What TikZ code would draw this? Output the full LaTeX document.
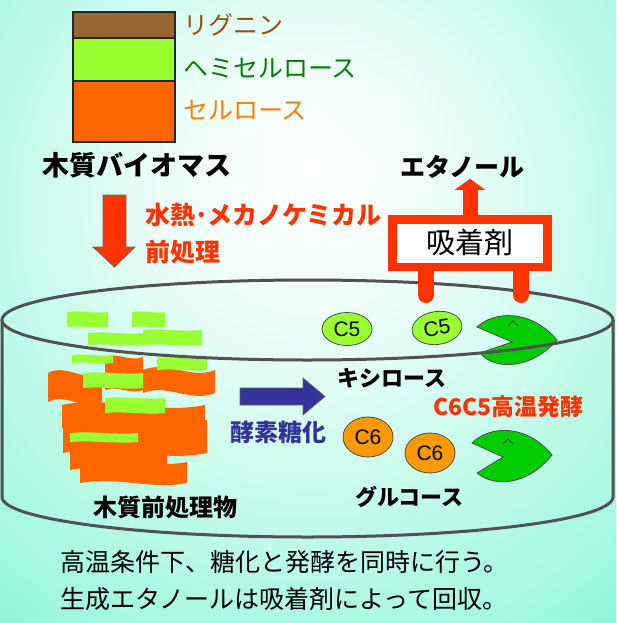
\documentclass[tikz,border=0pt]{standalone}
\usepackage{fontspec}
\setmainfont{Liberation Sans}
\newfontfamily\jp{Noto Sans CJK JP}
\usetikzlibrary{arrows.meta,shapes.geometric}

\definecolor{bgsea}{RGB}{122,245,208}
\definecolor{lignin}{RGB}{153,102,51}
\definecolor{hemi}{RGB}{153,255,51}
\definecolor{cellu}{RGB}{255,102,0}
\definecolor{lignintxt}{RGB}{150,80,20}
\definecolor{hemitxt}{RGB}{0,128,0}
\definecolor{cellutxt}{RGB}{255,128,0}
\definecolor{hotred}{RGB}{255,51,0}
\definecolor{navy}{RGB}{51,51,153}
\definecolor{sugar6}{RGB}{255,153,0}
\definecolor{yeast}{RGB}{0,204,0}

\pgfdeclareradialshading{glow}{\pgfpoint{0bp}{12bp}}{color(0bp)=(white); color(12bp)=(white!85!bgsea); color(40bp)=(bgsea!82!white); color(72bp)=(bgsea)}

% wavy strip: colour, wave height, left, top, right, bottom
\newcommand\wavestrip[6]{%
  \fill[#1] (#3,#4) .. controls ({#3+(#5-#3)/3},{#4-#2}) and ({#3+2*(#5-#3)/3},{#4+#2}) .. (#5,#4)
    -- (#5,#6) .. controls ({#3+2*(#5-#3)/3},{#6+#2}) and ({#3+(#5-#3)/3},{#6-#2}) .. (#3,#6) -- cycle;}

\tikzset{
  jp/.style={font=\jp\fontsize{#1}{#1}\selectfont, inner sep=0pt},
  jpb/.style={font=\jp\bfseries\fontsize{#1}{#1}\selectfont, inner sep=0pt},
  layer/.style={draw=black!85, line width=1.5pt},
  tub/.style={draw=black!68, line width=3pt},
  sugar/.style={draw=black!70, line width=0.8pt, minimum width=50pt, minimum height=33pt, ellipse, inner sep=0pt, font=\fontsize{21}{21}\selectfont},
  yeastcell/.style={fill=yeast, draw=black!70, line width=0.8pt},
  leg/.style={draw=hotred, line width=16pt, line cap=round},
  lift/.style={draw=hotred, line width=15pt, -{Triangle[width=30pt,length=11pt]}},
}

\begin{document}
\begin{tikzpicture}[x=1pt,y=-1pt]
  \useasboundingbox (0,0) rectangle (616,623);
  \shade[shading=glow] (0,0) rectangle (616,623);

  % biomass layers
  \filldraw[layer, fill=cellu] (73,81) rectangle (175,142);
  \filldraw[layer, fill=hemi] (73,38) rectangle (175,81);
  \filldraw[layer, fill=lignin] (73,12) rectangle (175,38);
  \node (lig) at (183,25) [jp=25, anchor=west, text=lignintxt] {リグニン};
  \node (hemicel) at (183,68) [jp=25, anchor=west, text=hemitxt] {ヘミセルロース};
  \node (cel) at (183,110) [jp=25, anchor=west, text=cellutxt] {セルロース};
  \node (biomass) at (42,165) [jpb=27, anchor=west] {木質バイオマス};

  % pretreatment
  \filldraw[fill=hotred, draw=black!60, line width=0.8pt] (103,195) -- (126,195) -- (126,247) -- (135,247)
    -- (114.5,267) -- (93,247) -- (103,247) -- cycle;
  \node (pretreat) at (145,215) [jpb=25, anchor=west, text=hotred] {水熱･メカノケミカル};
  \node (pretreat2) at (145,252) [jpb=25, anchor=west, text=hotred] {前処理};

  % pretreated wood in the tub
  \wavestrip{cellu}{10}{48}{373}{102}{402}
  \wavestrip{cellu}{5}{105}{357}{143}{390}
  \wavestrip{cellu}{10}{143}{370}{215}{393}
  \wavestrip{cellu}{10}{62}{405}{205}{428}
  \wavestrip{cellu}{10}{63}{420}{207}{453}
  \wavestrip{cellu}{7}{70}{447}{167}{470}
  \wavestrip{cellu}{7}{80}{462}{187}{483}
  \wavestrip{hemi}{2}{67}{312}{108}{327}
  \wavestrip{hemi}{2}{132}{312}{165}{327}
  \wavestrip{hemi}{2}{88}{333}{145}{345}
  \wavestrip{hemi}{2}{143}{330}{202}{345}
  \wavestrip{hemi}{2}{72}{355}{113}{363}
  \wavestrip{hemi}{2}{157}{358}{207}{370}
  \wavestrip{hemi}{2}{83}{373}{143}{388}
  \wavestrip{hemi}{2}{105}{398}{165}{413}
  \wavestrip{hemi}{2}{70}{433}{138}{442}
  \node (pretreated) at (93,507) [jpb=24, anchor=west] {木質前処理物};

  % saccharification
  \filldraw[fill=navy, draw=black!60, line width=0.8pt] (240,388) -- (303,388) -- (303,378) -- (325,396.5)
    -- (303,415) -- (303,405) -- (240,405) -- cycle;
  \node (enzyme) at (230,432) [jpb=24, anchor=west, text=navy] {酵素糖化};

  % sugars
  \node (xyl1) at (347,329) [sugar, fill=hemi] {C5};
  \node (xyl2) at (437,328) [sugar, fill=hemi, rotate=8] {C5};
  \node (glc1) at (368,437) [sugar, fill=sugar6, minimum height=40pt] {C6};
  \node (glc2) at (430,453) [sugar, fill=sugar6, minimum height=40pt] {C6};
  \node (xylose) at (337,378) [jpb=22, anchor=west] {キシロース};
  \node (glucose) at (355,497) [jpb=22, anchor=west] {グルコース};
  \node (ferment) at (433,407) [jpb=23, anchor=west, text=hotred] {C6C5高温発酵};

  % yeast
  \filldraw[yeastcell] (477,327) .. controls (495,310) and (532,310) .. (557,340)
    .. controls (532,369) and (495,371) .. (480,353) -- (512,342) -- cycle;
  \draw[black!70, line width=0.8pt] (508,326) -- (513,321) -- (518,326);
  \filldraw[yeastcell] (472,443) .. controls (490,425) and (527,424) .. (552,455)
    .. controls (528,485) and (495,488) .. (477,473) -- (503,457) -- cycle;
  \draw[black!70, line width=0.8pt] (503,444) -- (508,439) -- (513,444);

  % tub
  \draw[tub] (2,320) -- (2,497) arc[start angle=180, end angle=0, x radius=305.5, y radius=40] -- (613,320);
  \draw[tub] (307.5,320) ellipse [x radius=305.5, y radius=40];

  % adsorbent
  \node (sorbent) at (470,243) [draw=hotred, line width=8.5pt, fill=white, minimum width=155pt,
    minimum height=47.5pt, jp=29] {吸着剤};
  \node (ethanol) at (400,167) [jpb=25, anchor=west] {エタノール};
  \draw[leg] (sorbent.south -| 426,0) -- ++(0,24);
  \draw[leg] (sorbent.south -| 521,0) -- ++(0,24);
  \draw[lift] (sorbent.north) -- (sorbent.north |- ethanol.south);

  \node (summary) at (60,581) [jp=25, anchor=west, align=left] {高温条件下、糖化と発酵を同時に行う。\\[12pt]生成エタノールは吸着剤によって回収。};
\end{tikzpicture}
\end{document}
